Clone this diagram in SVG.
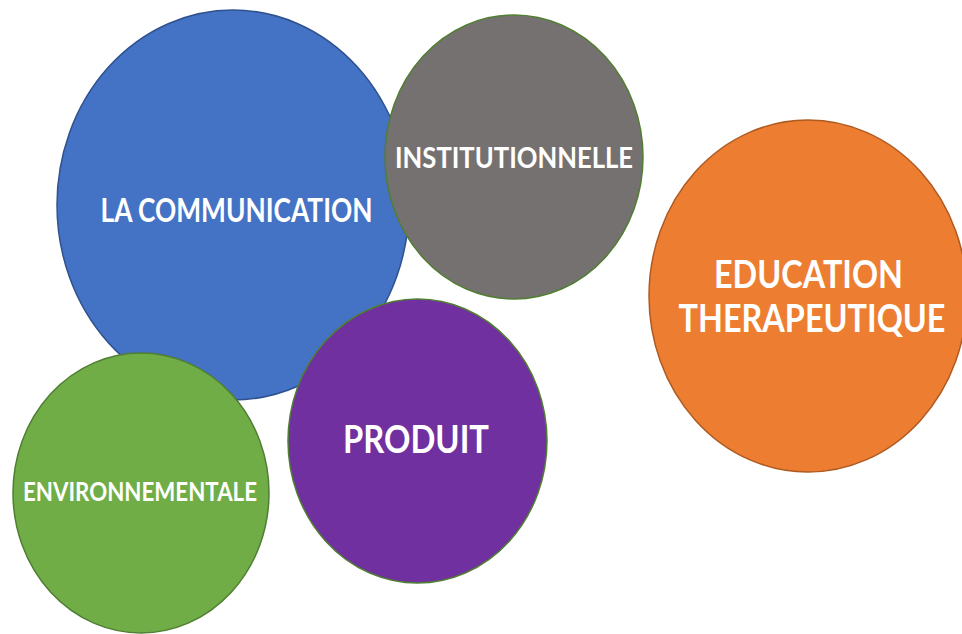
<svg xmlns="http://www.w3.org/2000/svg" width="962" height="634" viewBox="0 0 962 634">
<style>
.lbl{font-family:Lato,"Open Sans","Liberation Sans",sans-serif;font-weight:bold;fill:#ffffff;text-anchor:middle}
.b{stroke-width:1.5}
</style>
<rect width="962" height="634" fill="#ffffff"/>
<g id="communication">
<ellipse class="b" cx="233" cy="205" rx="176" ry="195" fill="#4472C4" stroke="#2F528F"/>
<text class="lbl" x="236.5" y="222" font-size="32" textLength="272" lengthAdjust="spacingAndGlyphs">LA COMMUNICATION</text>
</g>
<g id="institutionnelle">
<ellipse class="b" cx="514" cy="157" rx="129" ry="142" fill="#767171" stroke="#507E32"/>
<text class="lbl" x="514" y="168" font-size="29" textLength="238" lengthAdjust="spacingAndGlyphs">INSTITUTIONNELLE</text>
</g>
<g id="education">
<ellipse class="b" cx="808" cy="296" rx="159" ry="176" fill="#ED7D31" stroke="#AE5A21"/>
<text class="lbl" x="808.5" y="288" font-size="38" textLength="189" lengthAdjust="spacingAndGlyphs">EDUCATION</text>
<text class="lbl" x="812" y="332" font-size="38" textLength="267" lengthAdjust="spacingAndGlyphs">THERAPEUTIQUE</text>
</g>
<g id="produit">
<ellipse class="b" cx="417.5" cy="441" rx="129.5" ry="142" fill="#7030A0" stroke="#507E32"/>
<text class="lbl" x="416" y="453" font-size="38" textLength="146" lengthAdjust="spacingAndGlyphs">PRODUIT</text>
</g>
<g id="environnementale">
<ellipse class="b" cx="141" cy="493" rx="128" ry="140" fill="#70AD47" stroke="#507E32"/>
<text class="lbl" x="140" y="501" font-size="26" textLength="234" lengthAdjust="spacingAndGlyphs">ENVIRONNEMENTALE</text>
</g>
<g id="connectors"></g>
</svg>
